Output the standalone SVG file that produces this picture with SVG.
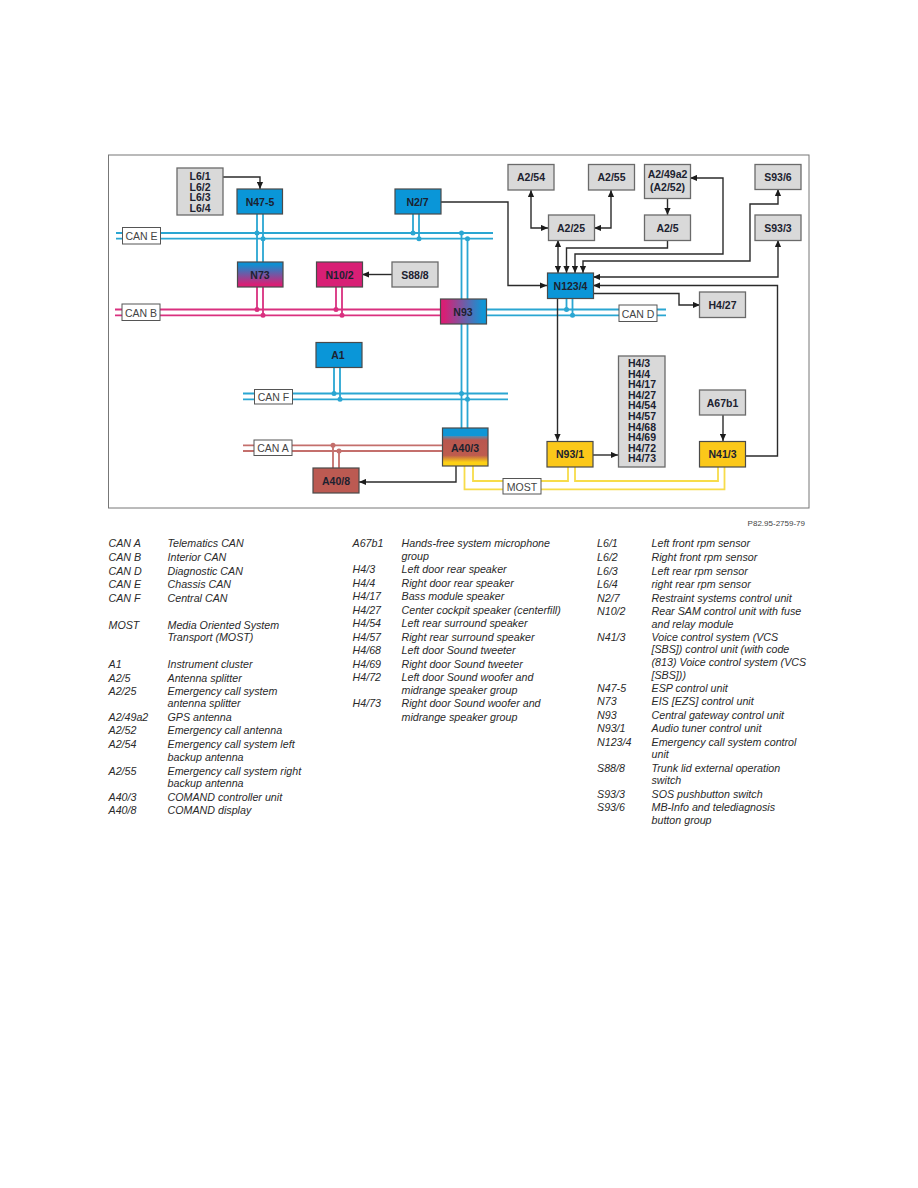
<svg xmlns="http://www.w3.org/2000/svg" width="918" height="1188" viewBox="0 0 918 1188">
  <style>
    .box { stroke: #4a4a4a; stroke-width: 1.2; }
    .grey { fill: #d9d9d9; stroke: #6a6a6a; stroke-width: 1.3; }
    .blue { fill: #0a96d8; }
    .yellow { fill: #fbc81a; }
    .lbl { font: bold 10.5px "Liberation Sans", Arial, sans-serif; fill: #1c2230; text-anchor: middle; }
    .bus { font: 10.5px "Liberation Sans", Arial, sans-serif; fill: #444; text-anchor: middle; }
    .busbox { fill: #fff; stroke: #555; stroke-width: 1; }
    .cy { fill: none; stroke: #2aa6d2; stroke-width: 1.8; }
    .mg { fill: none; stroke: #d9307f; stroke-width: 1.8; }
    .rd { fill: none; stroke: #c46f6c; stroke-width: 1.8; }
    .yl { fill: none; stroke: #f7dc4a; stroke-width: 1.8; }
    .wire { fill: none; stroke: #2b2b2b; stroke-width: 1.4; }
    .to { marker-end: url(#tip); }
    .both { marker-start: url(#tip); marker-end: url(#tip); }
    .dc { fill: #2aa6d2; }
    .dm { fill: #d9307f; }
    .dr { fill: #c46f6c; }
    .leg { font: italic 10.7px "Liberation Sans", Arial, sans-serif; fill: #2a2a2a; }
  </style>
  <defs>
    <marker id="tip" markerUnits="userSpaceOnUse" markerWidth="8" markerHeight="7" refX="7" refY="3.500" orient="auto-start-reverse">
      <path d="M0 0.400 L7 3.500 L0 6.600 Z" fill="#1c1c1c"/>
    </marker>
    <linearGradient id="gN73" x1="0" y1="0" x2="0" y2="1">
      <stop offset="0.1" stop-color="#0f8fd2"/>
      <stop offset="0.9" stop-color="#d81f75"/>
    </linearGradient>
    <linearGradient id="gN93" x1="0" y1="0" x2="1" y2="0">
      <stop offset="0.08" stop-color="#d81f75"/>
      <stop offset="0.92" stop-color="#0f96d6"/>
    </linearGradient>
    <linearGradient id="gA40" x1="0" y1="0" x2="0" y2="1">
      <stop offset="0.2" stop-color="#0f96d6"/>
      <stop offset="0.22" stop-color="#5d86a8"/>
      <stop offset="0.32" stop-color="#b9574f"/>
      <stop offset="0.72" stop-color="#be5c4e"/>
      <stop offset="0.9" stop-color="#fcd016"/>
    </linearGradient>
  </defs>

  <rect x="108.500" y="155" width="700.500" height="353" fill="#fff" stroke="#777" stroke-width="1"/>

  <g id="connectors">
    <!-- CAN E -->
    <path class="cy" d="M116 233H493M116 238.700H493"/>
    <path class="cy" d="M257 214V262M263 214V262M413 214V233M419 214V238.700M461.500 233V428M467.500 238.700V428"/>
    <g class="dc">
      <circle cx="257" cy="233" r="2.500"/><circle cx="263" cy="238.700" r="2.500"/>
      <circle cx="413" cy="233" r="2.500"/><circle cx="419" cy="238.700" r="2.500"/>
      <circle cx="461.500" cy="233" r="2.500"/><circle cx="467.500" cy="238.700" r="2.500"/>
    </g>
    <!-- CAN B -->
    <path class="mg" d="M115 309.500H440M115 315.300H440M257 287V309.500M263 287V315.300M336 287V309.500M342 287V315.300"/>
    <g class="dm">
      <circle cx="257" cy="309.500" r="2.500"/><circle cx="263" cy="315.300" r="2.500"/>
      <circle cx="336" cy="309.500" r="2.500"/><circle cx="342" cy="315.300" r="2.500"/>
    </g>
    <!-- CAN D -->
    <path class="cy" d="M486 309.500H666M486 315.300H666M566.500 298V309.500M572.500 298V315.300"/>
    <g class="dc"><circle cx="566.500" cy="309.500" r="2.500"/><circle cx="572.500" cy="315.300" r="2.500"/></g>
    <!-- CAN F -->
    <path class="cy" d="M243 393.500H508M243 399.300H508M334 367V393.500M340 367V399.300"/>
    <g class="dc">
      <circle cx="334" cy="393.500" r="2.500"/><circle cx="340" cy="399.300" r="2.500"/>
      <circle cx="461.500" cy="393.500" r="2.500"/><circle cx="467.500" cy="399.300" r="2.500"/>
    </g>
    <!-- CAN A -->
    <path class="rd" d="M243 445.300H442M243 451H442M333 445.300V468M339 451V468"/>
    <g class="dr"><circle cx="333" cy="445.300" r="2.500"/><circle cx="339" cy="451" r="2.500"/></g>
    <!-- MOST ring -->
    <path class="yl" d="M464.500 466V489.300H503M473 466V481H503M568 467V481H541M575 467V481H718V467M541 489.300H724.500V467"/>
    <!-- Point-to-point wires -->
    <path class="wire to" d="M223 177H260V189"/>
    <path class="wire to" d="M392 274.500H362"/>
    <path class="wire to" d="M441 202H508V285.500H547"/>
    <path class="wire both" d="M531 190V228H548"/>
    <path class="wire both" d="M611 190V228H594"/>
    <path class="wire both" d="M558 240V273"/>
    <path class="wire to" d="M667.500 198V215"/>
    <path class="wire to" d="M667.500 240V248H566.500V273"/>
    <path class="wire both" d="M690 178H723V254H575V273"/>
    <path class="wire both" d="M778 189V204H750V261H583V273"/>
    <path class="wire both" d="M778 240V277H593"/>
    <path class="wire to" d="M745 456H777.500V285.500H593"/>
    <path class="wire to" d="M593 293.500H679V305H700"/>
    <path class="wire to" d="M557.500 298V441"/>
    <path class="wire to" d="M593 455H618"/>
    <path class="wire to" d="M723 415V441"/>
    <path class="wire to" d="M456 466V482H359"/>
  </g>

  <g id="bus-labels">
    <rect class="busbox" x="122.500" y="227.500" width="38" height="16.500"/><text class="bus" x="141.500" y="240">CAN E</text>
    <rect class="busbox" x="122" y="304" width="38" height="16.500"/><text class="bus" x="141" y="316.500">CAN B</text>
    <rect class="busbox" x="619" y="305" width="38" height="16.500"/><text class="bus" x="638" y="317.500">CAN D</text>
    <rect class="busbox" x="254.500" y="389.500" width="38" height="14.500"/><text class="bus" x="273.500" y="400.500">CAN F</text>
    <rect class="busbox" x="254" y="440" width="38" height="15.500"/><text class="bus" x="273" y="451.500">CAN A</text>
    <rect class="busbox" x="503" y="478.500" width="38" height="15.500"/><text class="bus" x="522" y="490.500">MOST</text>
  </g>

  <g id="L6"><rect class="grey" x="177" y="168" width="46" height="47"/>
    <text class="lbl" x="200" y="180">L6/1</text><text class="lbl" x="200" y="190.500">L6/2</text><text class="lbl" x="200" y="201">L6/3</text><text class="lbl" x="200" y="211.500">L6/4</text></g>
  <g id="N47-5"><rect class="box blue" x="237" y="189" width="45.500" height="25"/><text class="lbl" x="260" y="205.500">N47-5</text></g>
  <g id="N2-7"><rect class="box blue" x="395" y="189" width="46" height="25"/><text class="lbl" x="417.500" y="205.500">N2/7</text></g>
  <g id="N73"><rect class="box" fill="url(#gN73)" x="237.500" y="262" width="45.500" height="25"/><text class="lbl" x="260" y="278.500">N73</text></g>
  <g id="N10-2"><rect class="box" fill="#d81f75" x="316.500" y="262" width="46" height="25"/><text class="lbl" x="339.500" y="278.500">N10/2</text></g>
  <g id="S88-8"><rect class="grey" x="392" y="262" width="46" height="25"/><text class="lbl" x="415" y="278.500">S88/8</text></g>
  <g id="N93"><rect class="box" fill="url(#gN93)" x="440.500" y="299" width="46" height="25"/><text class="lbl" x="463" y="315.500">N93</text></g>
  <g id="A2-54"><rect class="grey" x="508" y="164.500" width="46" height="25.500"/><text class="lbl" x="531" y="181">A2/54</text></g>
  <g id="A2-55"><rect class="grey" x="588.500" y="164.500" width="46" height="25.500"/><text class="lbl" x="611.500" y="181">A2/55</text></g>
  <g id="A2-49a2"><rect class="grey" x="644.500" y="164.500" width="46" height="34"/><text class="lbl" x="667.500" y="178">A2/49a2</text><text class="lbl" x="667.500" y="191">(A2/52)</text></g>
  <g id="S93-6"><rect class="grey" x="755" y="164.500" width="46" height="25"/><text class="lbl" x="778" y="181">S93/6</text></g>
  <g id="A2-25"><rect class="grey" x="548.500" y="215" width="46" height="25.500"/><text class="lbl" x="571" y="231.500">A2/25</text></g>
  <g id="A2-5"><rect class="grey" x="644.500" y="215" width="46" height="25.500"/><text class="lbl" x="667.500" y="231.500">A2/5</text></g>
  <g id="S93-3"><rect class="grey" x="755" y="215" width="46" height="25.500"/><text class="lbl" x="778" y="231.500">S93/3</text></g>
  <g id="N123-4"><rect class="box blue" x="547.500" y="273" width="46" height="25.500"/><text class="lbl" x="570.500" y="289.500">N123/4</text></g>
  <g id="H4-27"><rect class="grey" x="699.500" y="292" width="46" height="25.500"/><text class="lbl" x="722.500" y="308.500">H4/27</text></g>
  <g id="A1"><rect class="box blue" x="316" y="342.500" width="46" height="25"/><text class="lbl" x="338" y="358.500">A1</text></g>
  <g id="H4-group"><rect class="grey" x="618.500" y="356" width="46.500" height="111"/>
    <text class="lbl" style="text-anchor:start" x="628" y="367">H4/3</text>
    <text class="lbl" style="text-anchor:start" x="628" y="377.600">H4/4</text>
    <text class="lbl" style="text-anchor:start" x="628" y="388.200">H4/17</text>
    <text class="lbl" style="text-anchor:start" x="628" y="398.800">H4/27</text>
    <text class="lbl" style="text-anchor:start" x="628" y="409.400">H4/54</text>
    <text class="lbl" style="text-anchor:start" x="628" y="420">H4/57</text>
    <text class="lbl" style="text-anchor:start" x="628" y="430.600">H4/68</text>
    <text class="lbl" style="text-anchor:start" x="628" y="441.200">H4/69</text>
    <text class="lbl" style="text-anchor:start" x="628" y="451.800">H4/72</text>
    <text class="lbl" style="text-anchor:start" x="628" y="462.400">H4/73</text>
  </g>
  <g id="A67b1"><rect class="grey" x="699.500" y="390" width="46" height="25"/><text class="lbl" x="722.500" y="406.500">A67b1</text></g>
  <g id="A40-3"><rect class="box" fill="url(#gA40)" x="442.500" y="428" width="45.500" height="38"/><text class="lbl" x="465" y="451.500">A40/3</text></g>
  <g id="A40-8"><rect class="box" fill="#bc5a52" x="313" y="468" width="46" height="25"/><text class="lbl" x="336" y="485">A40/8</text></g>
  <g id="N93-1"><rect class="box yellow" x="547" y="441.500" width="46" height="25.500"/><text class="lbl" x="570" y="458">N93/1</text></g>
  <g id="N41-3"><rect class="box yellow" x="699.500" y="441.500" width="46" height="25.500"/><text class="lbl" x="722.500" y="458">N41/3</text></g>

  <text x="805" y="525.500" text-anchor="end" style="font: 8px 'Liberation Sans', Arial, sans-serif; fill:#444">P82.95-2759-79</text>

  <g id="legend-left" class="leg">
    <text x="108.500" y="547">CAN A</text><text x="167.500" y="547">Telematics CAN</text>
    <text x="108.500" y="561">CAN B</text><text x="167.500" y="561">Interior CAN</text>
    <text x="108.500" y="574.500">CAN D</text><text x="167.500" y="574.500">Diagnostic CAN</text>
    <text x="108.500" y="588">CAN E</text><text x="167.500" y="588">Chassis CAN</text>
    <text x="108.500" y="601.500">CAN F</text><text x="167.500" y="601.500">Central CAN</text>
    <text x="108.500" y="628.500">MOST</text><text x="167.500" y="628.500">Media Oriented System</text>
    <text x="167.500" y="641">Transport (MOST)</text>
    <text x="108.500" y="668">A1</text><text x="167.500" y="668">Instrument cluster</text>
    <text x="108.500" y="681.500">A2/5</text><text x="167.500" y="681.500">Antenna splitter</text>
    <text x="108.500" y="695">A2/25</text><text x="167.500" y="695">Emergency call system</text>
    <text x="167.500" y="707">antenna splitter</text>
    <text x="108.500" y="720.500">A2/49a2</text><text x="167.500" y="720.500">GPS antenna</text>
    <text x="108.500" y="734">A2/52</text><text x="167.500" y="734">Emergency call antenna</text>
    <text x="108.500" y="747.500">A2/54</text><text x="167.500" y="747.500">Emergency call system left</text>
    <text x="167.500" y="761">backup antenna</text>
    <text x="108.500" y="774.500">A2/55</text><text x="167.500" y="774.500">Emergency call system right</text>
    <text x="167.500" y="787">backup antenna</text>
    <text x="108.500" y="800.500">A40/3</text><text x="167.500" y="800.500">COMAND controller unit</text>
    <text x="108.500" y="814">A40/8</text><text x="167.500" y="814">COMAND display</text>
  </g>
  <g id="legend-middle" class="leg">
    <text x="352.500" y="547">A67b1</text><text x="401.500" y="547">Hands-free system microphone</text>
    <text x="401.500" y="559.500">group</text>
    <text x="352.500" y="573">H4/3</text><text x="401.500" y="573">Left door rear speaker</text>
    <text x="352.500" y="586.500">H4/4</text><text x="401.500" y="586.500">Right door rear speaker</text>
    <text x="352.500" y="600">H4/17</text><text x="401.500" y="600">Bass module speaker</text>
    <text x="352.500" y="613.500">H4/27</text><text x="401.500" y="613.500">Center cockpit speaker (centerfill)</text>
    <text x="352.500" y="627">H4/54</text><text x="401.500" y="627">Left rear surround speaker</text>
    <text x="352.500" y="640.500">H4/57</text><text x="401.500" y="640.500">Right rear surround speaker</text>
    <text x="352.500" y="654">H4/68</text><text x="401.500" y="654">Left door Sound tweeter</text>
    <text x="352.500" y="667.500">H4/69</text><text x="401.500" y="667.500">Right door Sound tweeter</text>
    <text x="352.500" y="681">H4/72</text><text x="401.500" y="681">Left door Sound woofer and</text>
    <text x="401.500" y="693.500">midrange speaker group</text>
    <text x="352.500" y="707">H4/73</text><text x="401.500" y="707">Right door Sound woofer and</text>
    <text x="401.500" y="720.500">midrange speaker group</text>
  </g>
  <g id="legend-right" class="leg">
    <text x="597" y="547">L6/1</text><text x="651.500" y="547">Left front rpm sensor</text>
    <text x="597" y="561">L6/2</text><text x="651.500" y="561">Right front rpm sensor</text>
    <text x="597" y="574.500">L6/3</text><text x="651.500" y="574.500">Left rear rpm sensor</text>
    <text x="597" y="588">L6/4</text><text x="651.500" y="588">right rear rpm sensor</text>
    <text x="597" y="601.500">N2/7</text><text x="651.500" y="601.500">Restraint systems control unit</text>
    <text x="597" y="615">N10/2</text><text x="651.500" y="615">Rear SAM control unit with fuse</text>
    <text x="651.500" y="627.500">and relay module</text>
    <text x="597" y="641">N41/3</text><text x="651.500" y="641">Voice control system (VCS</text>
    <text x="651.500" y="653">[SBS]) control unit (with code</text>
    <text x="651.500" y="665.500">(813) Voice control system (VCS</text>
    <text x="651.500" y="679">[SBS]))</text>
    <text x="597" y="691.500">N47-5</text><text x="651.500" y="691.500">ESP control unit</text>
    <text x="597" y="705">N73</text><text x="651.500" y="705">EIS [EZS] control unit</text>
    <text x="597" y="718.500">N93</text><text x="651.500" y="718.500">Central gateway control unit</text>
    <text x="597" y="732">N93/1</text><text x="651.500" y="732">Audio tuner control unit</text>
    <text x="597" y="745.500">N123/4</text><text x="651.500" y="745.500">Emergency call system control</text>
    <text x="651.500" y="758">unit</text>
    <text x="597" y="771.500">S88/8</text><text x="651.500" y="771.500">Trunk lid external operation</text>
    <text x="651.500" y="784">switch</text>
    <text x="597" y="797.500">S93/3</text><text x="651.500" y="797.500">SOS pushbutton switch</text>
    <text x="597" y="811">S93/6</text><text x="651.500" y="811">MB-Info and telediagnosis</text>
    <text x="651.500" y="823.500">button group</text>
  </g>
</svg>
